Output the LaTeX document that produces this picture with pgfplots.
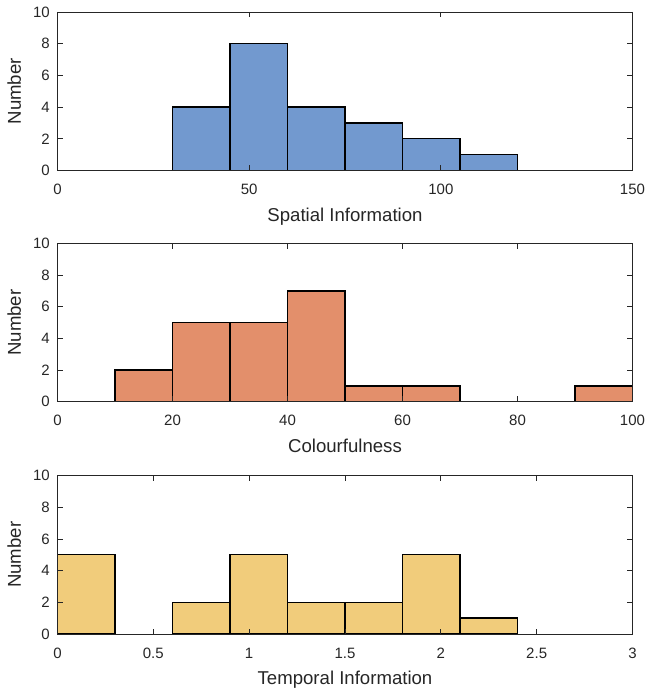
\documentclass[border=0pt]{standalone}
\usepackage{fontspec}
\setmainfont{Liberation Sans}
\usepackage{pgfplots}
\pgfplotsset{compat=1.18}
\definecolor{axcol}{RGB}{38,38,38}
\definecolor{cblue}{RGB}{114,153,207}
\definecolor{corange}{RGB}{227,143,107}
\definecolor{cyellow}{RGB}{241,204,123}
\pgfplotsset{
  histax/.style={
    scale only axis,
    width=575pt, height=158.5pt,
    anchor=north west,
    axis on top,
    ymin=0, ymax=10,
    ytick={0,2,...,10},
    tick align=inside,
    major tick length=5.5pt,
    axis line style={axcol, line width=0.8pt},
    every tick/.style={axcol, line width=0.8pt},
    /pgf/number format/assume math mode=true,
    ticklabel style={font=\fontsize{15}{18}\selectfont, text=axcol},
    xticklabel style={anchor=base, yshift=-24pt, inner sep=0pt},
    yticklabel style={anchor=east, xshift=-7.5pt, inner sep=0pt},
    label style={font=\fontsize{18.6}{22}\selectfont, text=axcol},
    xlabel style={at={(axis description cs:0.5,-0.3214)}, anchor=base, inner sep=0pt},
    ylabel style={at={(axis description cs:-0.0635,0.5)}, anchor=base, rotate=0, inner sep=0pt},
    ylabel={Number},
  },
  histfill/.style={ybar interval, draw=none, fill=#1},
  histedge/.style={ybar interval, draw=black, line width=1.4pt, line join=miter, fill=none},
}
\pgfplotstableread{
x y
30 4
45 8
60 4
75 3
90 2
105 1
120 0
}\spatial
\pgfplotstableread{
x y
10 2
20 5
30 5
40 7
50 1
60 1
70 0
}\colourA
\pgfplotstableread{
x y
90 1
100 0
}\colourB
\pgfplotstableread{
x y
0 5
0.3 0
}\tempA
\pgfplotstableread{
x y
0.6 2
0.9 5
1.2 2
1.5 2
1.8 5
2.1 1
2.4 0
}\tempB
\begin{document}
\begin{tikzpicture}[x=1pt,y=1pt]
\path[use as bounding box] (0,0) rectangle (647,-692);
\begin{axis}[histax, at={(57.5pt,-12pt)},
  xmin=0, xmax=150, xtick={0,50,100,150},
  xlabel={Spatial Information}]
\addplot[histfill=cblue] table[x=x,y=y] {\spatial};
\addplot[histedge] table[x=x,y=y] {\spatial};
\end{axis}
\begin{axis}[histax, at={(57.5pt,-243.3pt)},
  xmin=0, xmax=100, xtick={0,20,...,100},
  xlabel={Colourfulness}]
\addplot[histfill=corange] table[x=x,y=y] {\colourA};
\addplot[histfill=corange] table[x=x,y=y] {\colourB};
\addplot[histedge] table[x=x,y=y] {\colourA};
\addplot[histedge] table[x=x,y=y] {\colourB};
\end{axis}
\begin{axis}[histax, at={(57.5pt,-475.5pt)},
  xmin=0, xmax=3, xtick={0,0.5,...,3},
  xlabel={Temporal Information}]
\addplot[histfill=cyellow] table[x=x,y=y] {\tempA};
\addplot[histfill=cyellow] table[x=x,y=y] {\tempB};
\addplot[histedge] table[x=x,y=y] {\tempA};
\addplot[histedge] table[x=x,y=y] {\tempB};
\end{axis}
\end{tikzpicture}
\end{document}
